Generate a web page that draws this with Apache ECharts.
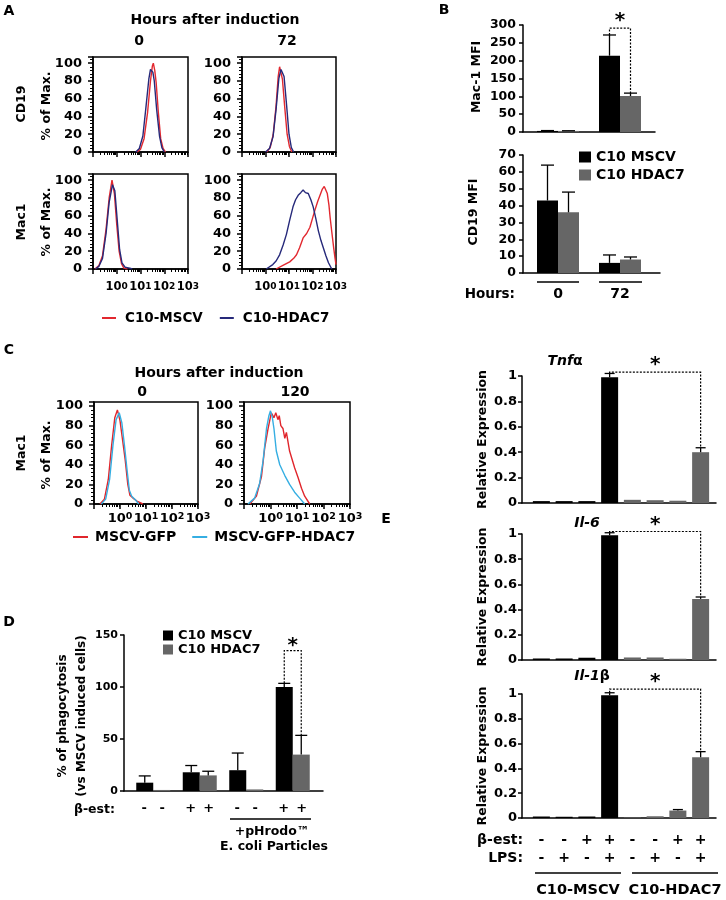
<!DOCTYPE html>
<html><head><meta charset="utf-8">
<script src="https://cdn.jsdelivr.net/npm/echarts/dist/echarts.min.js"></script>
<style>html,body{margin:0;padding:0;background:#fff}#c{width:726px;height:900px}</style>
</head><body><div id="c"></div><script>
// ---------------- DATA ----------------
// Panel A: flow histograms, x = log10(fluorescence), y = % of max
const aCd19_0h_mscv  = [[0.85,0],[1.0,3],[1.15,15],[1.3,45],[1.42,80],[1.5,97],[1.54,100],[1.6,92],[1.66,78],[1.75,45],[1.85,15],[1.95,4],[2.05,0]];
const aCd19_0h_hdac7 = [[0.8,0],[0.95,4],[1.1,18],[1.22,48],[1.35,82],[1.42,93],[1.46,95],[1.52,90],[1.58,80],[1.68,48],[1.8,18],[1.9,5],[2.0,0]];
const aCd19_72h_mscv  = [[0.05,0],[0.2,5],[0.33,20],[0.45,52],[0.54,85],[0.6,96],[0.63,97],[0.72,82],[0.82,50],[0.92,20],[1.02,6],[1.12,0]];
const aCd19_72h_hdac7 = [[0.0,0],[0.17,4],[0.32,17],[0.45,48],[0.57,83],[0.66,93],[0.69,95],[0.79,85],[0.9,52],[1.0,20],[1.1,5],[1.2,0]];
const aMac1_0h_mscv  = [[-0.92,0],[-0.75,4],[-0.6,15],[-0.45,45],[-0.32,80],[-0.2,100],[-0.1,85],[0.0,50],[0.1,20],[0.2,6],[0.3,1],[0.45,0]];
const aMac1_0h_hdac7 = [[-0.9,0],[-0.75,3],[-0.6,12],[-0.45,40],[-0.32,75],[-0.18,95],[-0.08,88],[0.02,55],[0.12,22],[0.22,7],[0.35,2],[0.55,1],[0.65,0]];
const aMac1_72h_mscv  = [[0.45,0],[0.74,4],[1.03,8],[1.2,12],[1.32,16],[1.45,24],[1.6,35],[1.75,40],[1.89,47],[2.0,57],[2.1,66],[2.22,76],[2.32,83],[2.42,90],[2.5,93],[2.56,91],[2.63,85],[2.7,72],[2.75,58],[2.82,42],[2.9,24],[2.96,12],[3.0,5]];
const aMac1_72h_hdac7 = [[0.03,0],[0.31,5],[0.45,9],[0.6,16],[0.75,27],[0.89,39],[1.03,55],[1.17,70],[1.28,78],[1.39,83],[1.5,86],[1.6,89],[1.7,86],[1.82,85],[1.93,78],[2.03,70],[2.14,57],[2.25,43],[2.36,32],[2.46,24],[2.57,15],[2.68,7],[2.82,0]];
// Panel C
const cMac1_0h_gfp      = [[-0.77,0],[-0.6,5],[-0.45,25],[-0.32,60],[-0.2,88],[-0.1,96],[0.0,85],[0.1,65],[0.2,45],[0.3,20],[0.38,9],[0.5,6],[0.65,3],[0.88,0]];
const cMac1_0h_gfpHdac7 = [[-0.72,0],[-0.55,5],[-0.4,25],[-0.27,60],[-0.15,86],[-0.03,93],[0.07,83],[0.17,60],[0.27,35],[0.36,14],[0.45,8],[0.6,4],[0.72,0]];
const cMac1_120h_gfp      = [[-0.78,0],[-0.53,8],[-0.34,28],[-0.22,57],[-0.09,77],[0.03,93],[0.13,88],[0.2,93],[0.28,86],[0.33,90],[0.39,80],[0.47,77],[0.54,67],[0.6,73],[0.72,54],[0.91,37],[1.04,27],[1.17,16],[1.29,8],[1.48,0]];
const cMac1_120h_gfpHdac7 = [[-0.85,0],[-0.6,6],[-0.41,21],[-0.28,44],[-0.15,77],[-0.06,90],[0.0,95],[0.07,88],[0.13,77],[0.22,54],[0.35,40],[0.54,29],[0.72,20],[0.91,12],[1.1,6],[1.29,0]];
const logTickExps = [0, 1, 2, 3];

// Panel B
const bHours = ['0', '72'];
const bMac1_mscv = [3, 214],  bMac1_mscvErr = [1, 58];
const bMac1_hdac7 = [3, 101], bMac1_hdac7Err = [0.5, 8];
const bCd19_mscv = [43, 6],   bCd19_mscvErr = [21, 4.7];
const bCd19_hdac7 = [36, 8],  bCd19_hdac7Err = [12, 1.5];
const bMac1SigLevel = 291;

// Panel D
const dCats = ['control', 'β-est', '+pHrodo', 'β-est +pHrodo'];
const dBeta = ['-', '+', '-', '+'];
const dPhago_mscv = [8, 18, 20, 100],  dPhago_mscvErr = [6.5, 6.5, 16.5, 3.5];
const dPhago_hdac7 = [1, 15, 1.5, 35], dPhago_hdac7Err = [0, 4, 0, 18.5];
const dSigLevel = 135;

// Panel E
const eCats = ['MSCV -/-', 'MSCV -/+', 'MSCV +/-', 'MSCV +/+', 'HDAC7 -/-', 'HDAC7 -/+', 'HDAC7 +/-', 'HDAC7 +/+'];
const eGroup = ['C10-MSCV','C10-MSCV','C10-MSCV','C10-MSCV','C10-HDAC7','C10-HDAC7','C10-HDAC7','C10-HDAC7'];
const eBeta = ['-', '-', '+', '+', '-', '-', '+', '+'];
const eLps  = ['-', '+', '-', '+', '-', '+', '-', '+'];
const eTnf  = [0.015, 0.015, 0.015, 0.99, 0.025, 0.022, 0.018, 0.40], eTnfErr  = [0, 0, 0, 0.03, 0, 0, 0, 0.035];
const eIl6  = [0.012, 0.012, 0.018, 0.99, 0.02, 0.02, 0.01, 0.485],  eIl6Err  = [0, 0, 0, 0.02, 0, 0, 0, 0.015];
const eIl1b = [0.012, 0.01, 0.012, 0.99, 0.004, 0.014, 0.06, 0.49],  eIl1bErr = [0, 0, 0, 0.02, 0, 0, 0.008, 0.045];
const eSigLevels = [1.03, 1.02, 1.04];

// ---------------- BUILD ----------------
const FF = 'DejaVu Sans';
const RED_A = '#e2282f', NAVY = '#26297a', RED_C = '#e0262c', CYAN = '#35aee2';
const BLACK = '#000000', GRAY = '#666666';
const grid = [], xAxis = [], yAxis = [], series = [], graphic = [], legend = [];
const minorLog = [];
for (let d = -1; d < 3; d++) for (let k = 2; k <= 9; k++) minorLog.push(d + Math.log10(k));
const axLine = { show: true, onZero: false, lineStyle: { color: '#000', width: 1.5 } };
function font(size, extra) { return Object.assign({ fontSize: size, fontWeight: 'bold', fontFamily: FF, color: '#000' }, extra || {}); }

function addHist(left, top, width, height, ymax, xl) {
  const gi = grid.length;
  grid.push({ left, top, width, height, show: true, borderColor: '#000', borderWidth: 1.5 });
  const xi = xAxis.length;
  xAxis.push({ gridIndex: gi, type: 'value', min: -1, max: 3, interval: 1, position: 'bottom',
    axisLine: axLine, axisTick: { show: true, length: 5, lineStyle: { color: '#000', width: 1.5 } },
    splitLine: { show: false },
    axisLabel: xl ? { show: true, margin: xl.margin, showMaxLabel: true, showMinLabel: true, hideOverlap: false,
      formatter: v => (logTickExps.indexOf(v) < 0 ? '' : '{b|10}{s|' + v + '}'),
      rich: { b: font(xl.base, { lineHeight: xl.base, verticalAlign: 'bottom' }),
              s: font(xl.sup, { lineHeight: xl.sup, padding: [0, 0, 6, 0], verticalAlign: 'top' }) } } : { show: false } });
  xAxis.push({ gridIndex: gi, type: 'value', min: -1, max: 3, position: 'bottom',
    axisLine: { show: false }, axisLabel: { show: false }, splitLine: { show: false },
    axisTick: { show: true, length: 3, customValues: minorLog, lineStyle: { color: '#000', width: 1 } } });
  const yi = yAxis.length;
  yAxis.push({ gridIndex: gi, type: 'value', min: 0, max: ymax, interval: 20,
    axisLine: axLine, axisTick: { show: true, length: 5, lineStyle: { color: '#000', width: 1.5 } },
    minorTick: { show: true, splitNumber: 5, length: 3, lineStyle: { color: '#000', width: 1 } },
    splitLine: { show: false }, minorSplitLine: { show: false },
    axisLabel: font(13, { showMaxLabel: false, margin: 11 }) });
  return { xi, yi };
}
function histLine(ax, name, data, color) {
  series.push({ type: 'line', name, xAxisIndex: ax.xi, yAxisIndex: ax.yi, data, symbol: 'none', showSymbol: false,
    lineStyle: { color, width: 1.4 }, itemStyle: { color }, silent: true });
}

function addBarPlot(o) {
  const fg = grid.length;
  grid.push({ left: o.frameLeft, top: o.top, width: o.frameRight - o.frameLeft, height: o.height });
  xAxis.push({ gridIndex: fg, type: 'value', min: 0, max: 1, axisLine: axLine, axisTick: { show: false }, axisLabel: { show: false }, splitLine: { show: false } });
  yAxis.push({ gridIndex: fg, type: 'value', min: o.min, max: o.max, interval: o.interval,
    axisLine: axLine, axisTick: { show: true, length: 4, lineStyle: { color: '#000', width: 1.5 } },
    axisLabel: font(o.labelSize, { margin: o.labelMargin }), splitLine: { show: false } });
  const bg = grid.length;
  grid.push({ left: o.barLeft, top: o.top, width: o.barRight - o.barLeft, height: o.height });
  const bx = xAxis.length;
  xAxis.push({ gridIndex: bg, type: 'category', data: o.cats, axisLine: { show: false }, axisTick: { show: false },
    axisLabel: o.xLabel ? Object.assign({ interval: 0, hideOverlap: false }, o.xLabel) : { show: false }, splitLine: { show: false } });
  const by = yAxis.length;
  yAxis.push({ gridIndex: bg, type: 'value', min: o.min, max: o.max, show: false });
  return { bx, by };
}
function barSeries(ax, name, data, color, width, gap) {
  series.push({ type: 'bar', name, xAxisIndex: ax.bx, yAxisIndex: ax.by, data, barWidth: width, barGap: gap,
    itemStyle: { color }, silent: true });
}
function errSeries(ax, vals, errs, shift, cap) {
  series.push({ type: 'custom', xAxisIndex: ax.bx, yAxisIndex: ax.by, silent: true, z: 5,
    data: vals.map((v, i) => [i, v, errs[i]]),
    renderItem: (p, api) => {
      const i = api.value(0), v = api.value(1), e = api.value(2);
      if (!e) return null;
      const a = api.coord([i, v]), b = api.coord([i, v + e]);
      const x = a[0] + shift;
      return { type: 'group', children: [
        { type: 'line', shape: { x1: x, y1: a[1], x2: x, y2: b[1] }, style: { stroke: '#000', lineWidth: 1.3 } },
        { type: 'line', shape: { x1: x - cap / 2, y1: b[1], x2: x + cap / 2, y2: b[1] }, style: { stroke: '#000', lineWidth: 1.3 } }] };
    } });
}
function bracket(ax, p1, p2, level, starDy) {
  series.push({ type: 'custom', xAxisIndex: ax.bx, yAxisIndex: ax.by, silent: true, z: 6, clip: false,
    data: [[p1[0], level]],
    renderItem: (p, api) => {
      const a = api.coord([p1[0], p1[1]]), b = api.coord([p2[0], p2[1]]), l = api.coord([p1[0], api.value(1)]);
      const x1 = a[0] + p1[2], x2 = b[0] + p2[2], yl = l[1];
      return { type: 'group', children: [
        { type: 'polyline', shape: { points: [[x1, a[1]], [x1, yl], [x2, yl], [x2, b[1]]] },
          style: { stroke: '#000', lineWidth: 1.2, lineDash: [2, 1.5], fill: null } },
        { type: 'text', x: (x1 + x2) / 2, y: yl - starDy,
          style: { text: '*', fontSize: 20, fontWeight: 'bold', fontFamily: FF, fill: '#000', align: 'center', verticalAlign: 'middle' } }] };
    } });
}
function gtext(x, y, text, size, o) {
  o = o || {};
  graphic.push({ type: 'text', x, y, rotation: o.rot || 0, silent: true,
    style: { text, fontSize: size, fontWeight: 'bold', fontFamily: o.family || FF, fontStyle: o.italic ? 'italic' : 'normal',
      fill: '#000', align: o.align || 'center', verticalAlign: 'middle', rich: o.rich } });
}
function gline(x1, y1, x2, y2) {
  graphic.push({ type: 'line', silent: true, shape: { x1, y1, x2, y2 }, style: { stroke: '#000', lineWidth: 1.5 } });
}
const R90 = Math.PI / 2;

// ---- Panel A ----
const xlA = { base: 11.5, sup: 9, margin: 13 };
const a1 = addHist(93, 57, 95, 95, 107, null);
histLine(a1, 'C10-MSCV', aCd19_0h_mscv, RED_A); histLine(a1, 'C10-HDAC7', aCd19_0h_hdac7, NAVY);
const a2 = addHist(242, 57, 94, 95, 107, null);
histLine(a2, 'C10-MSCV', aCd19_72h_mscv, RED_A); histLine(a2, 'C10-HDAC7', aCd19_72h_hdac7, NAVY);
const a3 = addHist(93, 174, 95, 95, 107, xlA);
histLine(a3, 'C10-MSCV', aMac1_0h_mscv, RED_A); histLine(a3, 'C10-HDAC7', aMac1_0h_hdac7, NAVY);
const a4 = addHist(242, 174, 94, 95, 107, xlA);
histLine(a4, 'C10-MSCV', aMac1_72h_mscv, RED_A); histLine(a4, 'C10-HDAC7', aMac1_72h_hdac7, NAVY);
legend.push({ data: ['C10-MSCV', 'C10-HDAC7'], left: 102, top: 311, padding: 0, itemWidth: 14, itemHeight: 2, itemGap: 17,
  icon: 'rect', selectedMode: false, textStyle: font(13.5, { padding: [0, 0, 0, 4] }) });
gtext(9, 11, 'A', 14);
gtext(215, 20, 'Hours after induction', 14);
gtext(139, 41, '0', 14); gtext(287, 41, '72', 14);
gtext(22, 104, 'CD19', 12.5, { rot: R90 }); gtext(47, 106, '% of Max.', 12.5, { rot: R90 });
gtext(22, 222, 'Mac1', 12.5, { rot: R90 }); gtext(47, 222, '% of Max.', 12.5, { rot: R90 });

// ---- Panel C ----
const xlC = { base: 13, sup: 9.5, margin: 8 };
const c1 = addHist(94, 402, 104, 102, 104, xlC);
histLine(c1, 'MSCV-GFP', cMac1_0h_gfp, RED_C); histLine(c1, 'MSCV-GFP-HDAC7', cMac1_0h_gfpHdac7, CYAN);
const c2 = addHist(244, 402, 106, 102, 104, xlC);
histLine(c2, 'MSCV-GFP', cMac1_120h_gfp, RED_C); histLine(c2, 'MSCV-GFP-HDAC7', cMac1_120h_gfpHdac7, CYAN);
legend.push({ data: ['MSCV-GFP', 'MSCV-GFP-HDAC7'], left: 73, top: 530, padding: 0, itemWidth: 15, itemHeight: 2, itemGap: 16,
  icon: 'rect', selectedMode: false, textStyle: font(14, { padding: [0, 0, 0, 2] }) });
gtext(9, 350, 'C', 14);
gtext(219, 373, 'Hours after induction', 14);
gtext(142, 392, '0', 14); gtext(295, 392, '120', 14);
gtext(22, 453, 'Mac1', 12.5, { rot: R90 }); gtext(47, 455, '% of Max.', 12.5, { rot: R90 });

// ---- Panel B ----
const bTop = addBarPlot({ frameLeft: 523, frameRight: 655, barLeft: 527, barRight: 651, top: 25, height: 107,
  min: 0, max: 300, interval: 50, labelSize: 12.5, labelMargin: 7, cats: bHours });
barSeries(bTop, 'C10 MSCV', bMac1_mscv, BLACK, 21, 0); barSeries(bTop, 'C10 HDAC7', bMac1_hdac7, GRAY, 21, 0);
errSeries(bTop, bMac1_mscv, bMac1_mscvErr, -10.5, 13); errSeries(bTop, bMac1_hdac7, bMac1_hdac7Err, 10.5, 13);
bracket(bTop, [1, bMac1_mscv[1] + bMac1_mscvErr[1], -10.5], [1, bMac1_hdac7[1] + bMac1_hdac7Err[1], 10.5], bMac1SigLevel, 7);
const bBot = addBarPlot({ frameLeft: 523, frameRight: 660, barLeft: 527, barRight: 651, top: 155, height: 118,
  min: 0, max: 70, interval: 10, labelSize: 12.5, labelMargin: 7, cats: bHours,
  xLabel: font(14, { margin: 14 }) });
barSeries(bBot, 'C10 MSCV', bCd19_mscv, BLACK, 21, 0); barSeries(bBot, 'C10 HDAC7', bCd19_hdac7, GRAY, 21, 0);
errSeries(bBot, bCd19_mscv, bCd19_mscvErr, -10.5, 13); errSeries(bBot, bCd19_hdac7, bCd19_hdac7Err, 10.5, 13);
legend.push({ data: ['C10 MSCV', 'C10 HDAC7'], left: 579, top: 150, padding: 0, orient: 'vertical', itemWidth: 12, itemHeight: 11,
  itemGap: 4, icon: 'rect', selectedMode: false, textStyle: font(14, { lineHeight: 14 }) });
gtext(444, 10, 'B', 14);
gtext(477, 77, 'Mac-1 MFI', 12.5, { rot: R90 });
gtext(474, 212, 'CD19 MFI', 12.5, { rot: R90 });
gtext(515, 294, 'Hours:', 13.5, { align: 'right' });
gline(537, 282, 579, 282); gline(599, 282, 642, 282);

// ---- Panel D ----
const dPlot = addBarPlot({ frameLeft: 124, frameRight: 323, barLeft: 130, barRight: 316, top: 635, height: 156,
  min: 0, max: 150, interval: 50, labelSize: 11, labelMargin: 6, cats: dCats,
  xLabel: { margin: 11, formatter: (v, i) => '{s|' + dBeta[i] + '}{s|' + dBeta[i] + '}',
    rich: { s: font(13, { width: 18, align: 'center' }) } } });
barSeries(dPlot, 'C10 MSCV', dPhago_mscv, BLACK, 17, 0); barSeries(dPlot, 'C10 HDAC7', dPhago_hdac7, GRAY, 17, 0);
errSeries(dPlot, dPhago_mscv, dPhago_mscvErr, -8.5, 12); errSeries(dPlot, dPhago_hdac7, dPhago_hdac7Err, 8.5, 12);
bracket(dPlot, [3, dPhago_mscv[3] + dPhago_mscvErr[3], -8.5], [3, dPhago_hdac7[3] + dPhago_hdac7Err[3], 8.5], dSigLevel, 5);
legend.push({ data: ['C10 MSCV', 'C10 HDAC7'], left: 163, top: 629, padding: 0, orient: 'vertical', itemWidth: 10, itemHeight: 10,
  itemGap: 1, icon: 'rect', selectedMode: false, textStyle: font(13, { lineHeight: 13 }) });
gtext(9, 622, 'D', 14);
gtext(63, 716, '% of phagocytosis', 12, { rot: R90 });
gtext(82, 716, '(vs MSCV induced cells)', 12, { rot: R90 });
gtext(115, 810, 'β-est:', 12.5, { align: 'right' });
gline(230, 819, 311, 819);
gtext(272, 832, '+pHrodo™', 12.5); gtext(274, 847, 'E. coli Particles', 12.5);

// ---- Panel E ----
const eSpecs = [
  { vals: eTnf, errs: eTnfErr, top: 376, height: 127, name: 'Tnfα' },
  { vals: eIl6, errs: eIl6Err, top: 534, height: 126, name: 'Il-6' },
  { vals: eIl1b, errs: eIl1bErr, top: 694, height: 124, name: 'Il-1β' }];
eSpecs.forEach((s, k) => {
  const last = k === eSpecs.length - 1;
  const ax = addBarPlot({ frameLeft: 522, frameRight: 716, barLeft: 530, barRight: 712, top: s.top, height: s.height,
    min: 0, max: 1, interval: 0.2, labelSize: 13, labelMargin: 5, cats: eCats,
    xLabel: last ? Object.assign({ margin: 13, formatter: (v, i) => eBeta[i] + '\n' + eLps[i] }, font(14, { lineHeight: 18 })) : null });
  series.push({ type: 'bar', name: s.name, xAxisIndex: ax.bx, yAxisIndex: ax.by, data: s.vals, barWidth: 17, silent: true,
    itemStyle: { color: p => (eGroup[p.dataIndex] === 'C10-MSCV' ? BLACK : GRAY) } });
  errSeries(ax, s.vals, s.errs, 0, 10);
  bracket(ax, [3, s.vals[3] + s.errs[3], 0], [7, s.vals[7] + s.errs[7], 0], eSigLevels[k], 7);
  gtext(483, s.top + s.height / 2, 'Relative Expression', 12.5, { rot: R90 });
});
gtext(565, 361, '{i|Tnf}{n|α}', 14, { rich: { i: font(14, { fontStyle: 'italic' }), n: font(14) } });
gtext(587, 523, '{i|Il-6}', 14, { rich: { i: font(14, { fontStyle: 'italic' }) } });
gtext(592, 676, '{i|Il-1}{n|β}', 14, { rich: { i: font(14, { fontStyle: 'italic' }), n: font(14) } });
gtext(386, 519, 'E', 14);
gtext(523, 840, 'β-est:', 14, { align: 'right' });
gtext(523, 858, 'LPS:', 14, { align: 'right' });
gline(535, 873, 621, 873); gline(632, 873, 718, 873);
gtext(578, 890, eGroup[0], 14.5); gtext(675, 890, eGroup[4], 14.5);

const chart = echarts.init(document.getElementById('c'), null, { renderer: 'canvas' });
chart.setOption({ animation: false, backgroundColor: '#fff', grid, xAxis, yAxis, series, legend, graphic });
</script></body></html>
